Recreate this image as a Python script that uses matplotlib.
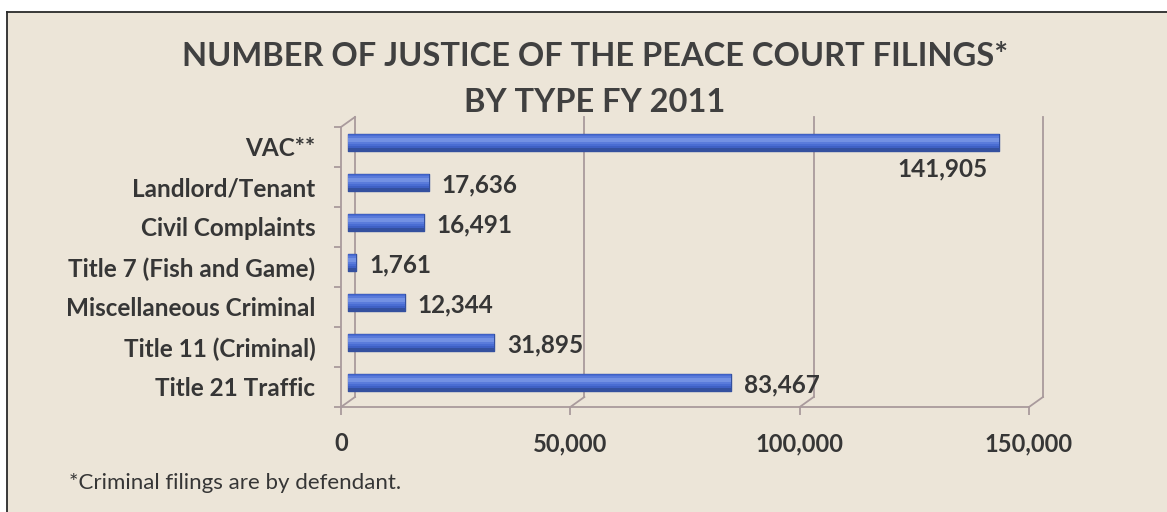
import matplotlib
matplotlib.use("Agg")
import matplotlib.pyplot as plt
from matplotlib.patches import Rectangle
from matplotlib.lines import Line2D

# ---- data ----
categories = ["VAC**", "Landlord/Tenant", "Civil Complaints", "Title 7 (Fish and Game)",
              "Miscellaneous Criminal", "Title 11 (Criminal)", "Title 21 Traffic"]
values = [141905, 17636, 16491, 1761, 12344, 31895, 83467]
x_ticks = [0, 50000, 100000, 150000]
title_lines = ["NUMBER OF JUSTICE OF THE PEACE COURT FILINGS*", "BY TYPE FY 2011"]
footnote = "*Criminal filings are by defendant."

# ---- style ----
W, H, DPI = 1167, 512, 100
PAPER = "#ece5d8"
TEXT = "#363636"
GRID = "#a99a9c"
FONT = "Lato"
# shading layers for a cylinder look: (relative height, relative centre shift, colour)
SHADES = [(1.00, 0.00, "#34509f"),
          (0.84, 0.04, "#3f60c4"),
          (0.66, 0.07, "#4a6dd3"),
          (0.46, 0.10, "#5a7bdb"),
          (0.24, 0.14, "#7391e3")]

fig = plt.figure(figsize=(W / DPI, H / DPI), dpi=DPI, facecolor="white")

# paper background with border at top/left
bg = fig.add_axes([0, 0, 1, 1], zorder=-10)
bg.set_xlim(0, W); bg.set_ylim(H, 0); bg.axis("off")
bg.add_patch(Rectangle((7, 12), W, H, facecolor=PAPER, edgecolor="none"))
bg.add_line(Line2D([7, W], [12, 12], color="#2a2a2a", lw=1.3))
bg.add_line(Line2D([7, 7], [12, H], color="#2a2a2a", lw=1.3))

# front plane of the 3D plot area (pixels)
x0, x1 = 341, 1029
ytop, ybot = 127, 407
ax = fig.add_axes([x0 / W, (H - ybot) / H, (x1 - x0) / W, (ybot - ytop) / H])
ax.set_facecolor("none")
n = len(categories)
xmax = x_ticks[-1]
ax.set_xlim(0, xmax)
ax.set_ylim(0, n)

# depth offset (back wall relative to front) in data units
px_x = xmax / (x1 - x0)
px_y = n / (ybot - ytop)
DX, DY = 14 * px_x, 10 * px_y

# back wall gridlines + floor diagonals
for t in x_ticks:
    ax.plot([t + DX, t + DX], [DY, n + DY], color=GRID, lw=1.3, zorder=1, clip_on=False)
    ax.plot([t, t + DX], [0, DY], color=GRID, lw=1.3, zorder=1, clip_on=False)
ax.plot([0, DX], [n, n + DY], color=GRID, lw=1.3, zorder=1, clip_on=False)

# spines / ticks
for s in ["top", "right"]:
    ax.spines[s].set_visible(False)
for s in ["left", "bottom"]:
    ax.spines[s].set_color(GRID)
    ax.spines[s].set_linewidth(1.3)

ax.set_xticks(x_ticks)
ax.set_xticklabels([f"{t:,}" for t in x_ticks])
ax.tick_params(axis="x", length=6, width=1.3, color=GRID, pad=12,
               labelsize=17, labelcolor=TEXT)
for lab in ax.get_xticklabels():
    lab.set_fontfamily(FONT); lab.set_fontweight("bold")

ax.set_yticks(range(n + 1))
ax.set_yticklabels([])
ax.tick_params(axis="y", which="major", length=5, width=1.3, color=GRID)
ypos = [n - 0.5 - i for i in range(n)]
ax.set_yticks(ypos, minor=True)
ax.set_yticklabels(categories, minor=True)
ax.tick_params(axis="y", which="minor", length=0, pad=18.5, labelsize=17.5, labelcolor=TEXT)
for lab in ax.get_yticklabels(minor=True):
    lab.set_fontfamily(FONT); lab.set_fontweight("bold")

# bars at mid-depth, with cylinder-like shading
mid_x, mid_y = DX / 2, DY / 2
bar_h = 17 * px_y
ybar = [y + mid_y for y in ypos]
for k, (rh, shift, col) in enumerate(SHADES):
    ax.barh([y + bar_h * shift for y in ybar], values, left=mid_x, height=bar_h * rh,
            color=col, edgecolor=col, linewidth=1.0 if k == 0 else 0,
            joinstyle="round", zorder=3 + k)

# value labels
for i, (v, y) in enumerate(zip(values, ybar)):
    label = f"{v:,}"
    if i == 0:
        ax.annotate(label, (v + mid_x, y), xytext=(-56, -27), textcoords="offset pixels",
                    ha="center", va="center", fontsize=17.5, fontweight="bold",
                    family=FONT, color=TEXT, zorder=10, annotation_clip=False)
    else:
        ax.annotate(label, (v + mid_x, y), xytext=(13, -3), textcoords="offset pixels",
                    ha="left", va="center", fontsize=17.5, fontweight="bold",
                    family=FONT, color=TEXT, zorder=10, annotation_clip=False)

# title
fig.text(595 / W, 1 - 56 / H, title_lines[0], ha="center", va="center",
         fontsize=23.5, fontweight="bold", family=FONT, color="#404040")
fig.text(595 / W, 1 - 102 / H, title_lines[1], ha="center", va="center",
         fontsize=23.5, fontweight="bold", family=FONT, color="#404040")

# footnote
fig.text(69 / W, 1 - 483 / H, footnote, ha="left", va="center",
         fontsize=16, family=FONT, color=TEXT)

fig.savefig("out.png", dpi=DPI, facecolor="white")
